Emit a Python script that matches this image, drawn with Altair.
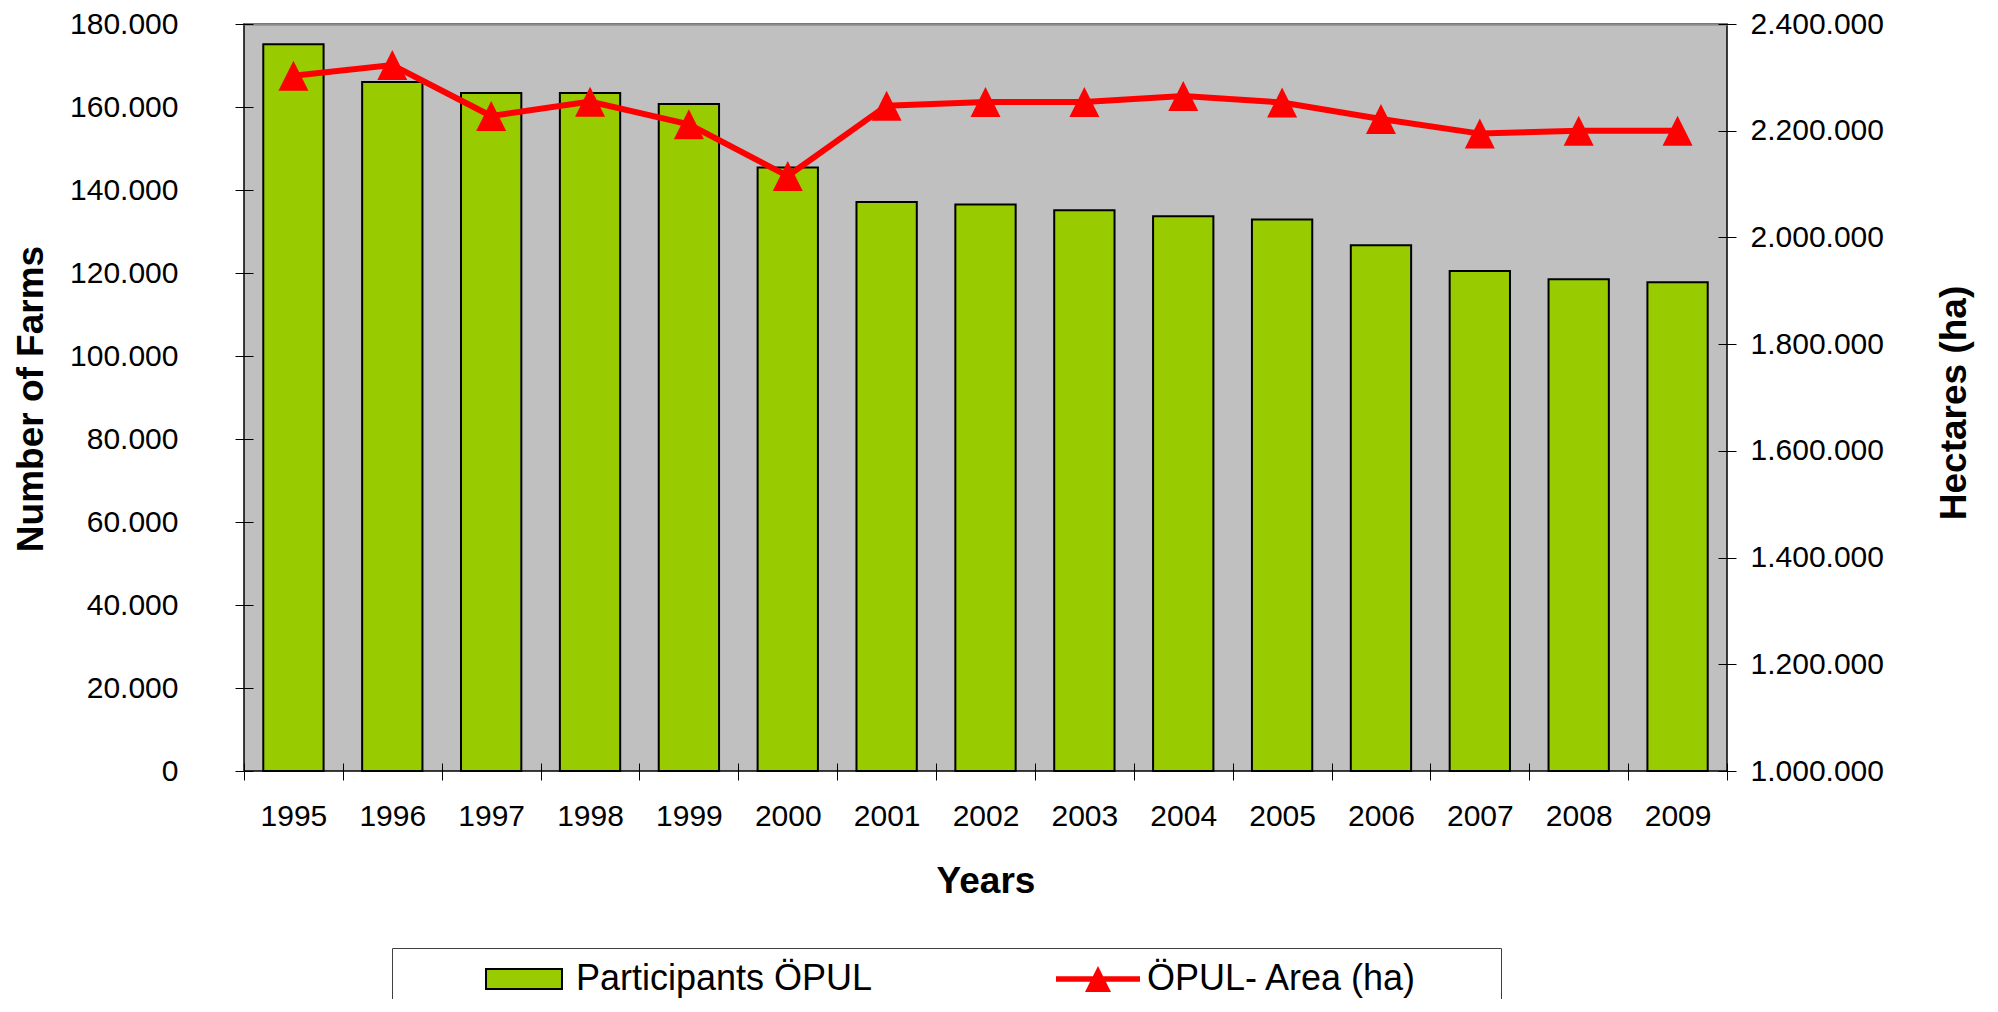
import altair as alt
import pandas as pd

# ---------------- data ----------------
years = ["1995", "1996", "1997", "1998", "1999", "2000", "2001", "2002",
         "2003", "2004", "2005", "2006", "2007", "2008", "2009"]
farms = [175100, 166000, 163400, 163400, 160700, 145400, 137100, 136500,
         135100, 133700, 132900, 126700, 120500, 118500, 117800]
area = [2303000, 2323000, 2227500, 2254500, 2212000, 2115000, 2247000, 2254000,
        2254000, 2265000, 2253000, 2222000, 2194600, 2200000, 2200000]
series = ["Participants ÖPUL", "ÖPUL- Area (ha)"]
colors = ["#99CC00", "#FF0000"]
left_ticks = [0, 20000, 40000, 60000, 80000, 100000, 120000, 140000, 160000, 180000]
right_ticks = [1000000, 1200000, 1400000, 1600000, 1800000, 2000000, 2200000, 2400000]

df = pd.DataFrame({
    "year": years,
    "farms": farms,
    "area": area,
    "s_bar": [series[0]] * len(years),
    "s_line": [series[1]] * len(years),
})

FONT = "Liberation Sans"
TRI = "M0,-1L1,1L-1,1Z"
# legend symbols (scaled by sqrt(size)/2 = 10); leading moveTo only extends the bounds
RECT = "M-11.9,0M-3.8,-1H3.8V1H-3.8Z"
LINESYM = "M-11.9,0M-4.2,-0.28H4.2V0.28H-4.2ZM0,-1.3L1.3,1.3L-1.3,1.3Z"
# no-break spaces widen the legend frame; the zero-width space keeps them from being trimmed
PAD = "\u00a0" * 7 + "\u200b"
DOTS = "replace(format(datum.value, ','), regexp(',', 'g'), '.')"

common = dict(orient="none", legendY=924, direction="horizontal", title=None,
              padding=13, labelFont=FONT, labelFontSize=36, labelColor="black",
              labelLimit=2000, labelOffset=34, symbolOffset=101, symbolSize=400,
              symbolOpacity=1)
# legend 1: both entries with their labels + the frame; the 2nd symbol is transparent
LEG1 = alt.Legend(legendX=148, strokeColor="#404040", fillColor="white", columns=2,
                  columnPadding=99, symbolType=RECT, symbolStrokeWidth=2, zindex=0,
                  labelExpr="datum.label + (datum.value === '" + series[1] + "' ? '"
                            + PAD + "' : '')", **common)
# legend 2: only the line/triangle symbol, drawn over the 2nd entry of legend 1
LEG2 = alt.Legend(legendX=722, symbolType=LINESYM, symbolFillColor=colors[1],
                  symbolStrokeWidth=0, zindex=1, labelExpr="''", **common)

xs = alt.Scale(paddingInner=0, paddingOuter=0)

x_bottom = alt.Axis(orient="bottom", tickBand="extent", offset=-8, tickSize=17,
                    domain=False, labelAngle=0, labelPadding=21, grid=False,
                    title="Years", titleY=129, titleBaseline="alphabetic")
x_top = alt.Axis(orient="top", domain=True, domainColor="#8c8c8c", domainWidth=2.5,
                 ticks=False, labels=False, title=None, grid=False)
y_left = alt.Axis(values=left_ticks, labelExpr=DOTS, domain=False, offset=-9,
                  tickSize=18, labelPadding=57, grid=False, title="Number of Farms",
                  titleAngle=270, titleX=-210.5, titleY=374.5,
                  titleBaseline="alphabetic", titleAlign="center")
y_right = alt.Axis(orient="right", values=right_ticks, labelExpr=DOTS, domain=False,
                   offset=-9, tickSize=18, labelPadding=14, grid=False,
                   title="Hectares (ha)", titleAngle=270, titleX=247.5, titleY=378.5,
                   titleBaseline="alphabetic", titleAlign="center")

bars = alt.Chart(df).mark_bar(strokeWidth=2, width=alt.RelativeBandSize(0.61)).encode(
    x=alt.X("year:O", sort=years, scale=xs, axis=x_bottom),
    y=alt.Y("farms:Q", scale=alt.Scale(domain=[0, 180000], nice=False), axis=y_left),
    fill=alt.Fill("s_bar:N", scale=alt.Scale(domain=series,
                                             range=[colors[0], "transparent"]),
                  legend=LEG1),
    stroke=alt.Stroke("s_bar:N", scale=alt.Scale(domain=series,
                                                 range=["black", "transparent"]),
                      legend=LEG1),
)

lscale = alt.Scale(domain=[series[1]], range=[colors[1]])
yr = alt.Y("area:Q", scale=alt.Scale(domain=[1000000, 2400000], nice=False, zero=False),
           axis=y_right)
line = alt.Chart(df).mark_line(strokeWidth=6).encode(
    x=alt.X("year:O", sort=years, scale=xs, axis=x_top),
    y=yr,
    color=alt.Color("s_line:N", scale=lscale, legend=LEG2),
)
points = alt.Chart(df).mark_point(shape=TRI, filled=True, size=900, opacity=1).encode(
    x=alt.X("year:O", sort=years, scale=xs, axis=x_top),
    y=yr,
    color=alt.Color("s_line:N", scale=lscale, legend=LEG2),
)

chart = (
    alt.layer(bars, alt.layer(line, points))
    .resolve_scale(y="independent")
    .resolve_axis(x="independent")
    .properties(width=1483, height=747,
                autosize=alt.AutoSizeParams(type="none"),
                padding={"left": 236, "top": 16, "right": 255, "bottom": 228})
    .configure_view(fill="#C0C0C0", stroke="black", strokeWidth=1.5)
    .configure_axis(labelFont=FONT, titleFont=FONT, labelFontSize=30, titleFontSize=37,
                    titleFontWeight="bold", labelColor="black", titleColor="black",
                    tickColor="black", tickWidth=1)
)

chart.save("out.html", embed_options={"renderer": "svg", "actions": False})
